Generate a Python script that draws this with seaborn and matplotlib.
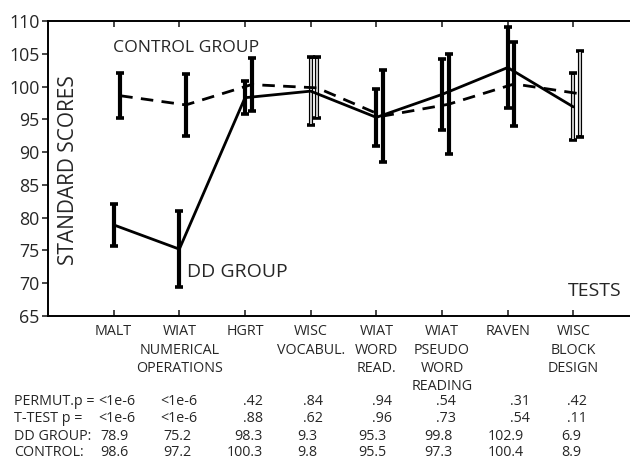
import numpy as np
import pandas as pd
import matplotlib
matplotlib.use("Agg")
import matplotlib.pyplot as plt
import seaborn as sns

# ---- data ----
tests = ["MALT", "WIAT\nNUMERICAL\nOPERATIONS", "HGRT", "WISC\nVOCABUL.",
         "WIAT\nWORD\nREAD.", "WIAT\nPSEUDO\nWORD\nREADING", "RAVEN", "WISC\nBLOCK\nDESIGN"]
dd_scores = [78.9, 75.2, 98.3, 99.3, 95.3, 98.8, 102.9, 96.9]
dd_err = [3.2, 5.8, 2.5, 5.2, 4.35, 5.4, 6.2, 5.1]
ctrl_scores = [98.6, 97.2, 100.3, 99.8, 95.5, 97.3, 100.4, 98.9]
ctrl_err = [3.4, 4.7, 4.0, 4.65, 7.0, 7.65, 6.4, 6.55]
thin_bars = [False, False, False, True, False, False, False, True]

permut_p = ["<1e-6", "<1e-6", ".42", ".84", ".94", ".54", ".31", ".42"]
ttest_p = ["<1e-6", "<1e-6", ".88", ".62", ".96", ".73", ".54", ".11"]
dd_row = ["78.9", "75.2", "98.3", "9.3", "95.3", "99.8", "102.9", "6.9"]
ctrl_row = ["98.6", "97.2", "100.3", "9.8", "95.5", "97.3", "100.4", "8.9"]

sns.set_style("ticks")
plt.rcParams["font.family"] = ["Open Sans", "DejaVu Sans"]

W, H = 630, 459
fig = plt.figure(figsize=(W / 100, H / 100), dpi=100)
ax = fig.add_axes([48 / W, (H - 316) / H, 591 / W, 295 / H])

pos = np.arange(1, len(tests) + 1)
ctrl_pos = pos + 0.1
df_dd = pd.DataFrame({"x": pos, "y": dd_scores})
df_ct = pd.DataFrame({"x": ctrl_pos, "y": ctrl_scores})

# error bars
for xs, ys, es in [(pos, dd_scores, dd_err), (ctrl_pos, ctrl_scores, ctrl_err)]:
    for xi, yi, ei, thin in zip(xs, ys, es, thin_bars):
        ax.errorbar([xi], [yi], yerr=[ei], fmt="none", ecolor="black",
                    elinewidth=3.0, capsize=3.2, capthick=2.6, zorder=2)
        if thin:
            ax.vlines([xi], yi - ei + 0.25, yi + ei - 0.25, colors="white",
                      linewidth=1.1, zorder=3)

sns.lineplot(data=df_dd, x="x", y="y", ax=ax, color="black", linewidth=2.0,
             sort=False, zorder=4)
sns.lineplot(data=df_ct, x="x", y="y", ax=ax, color="black", linewidth=2.0,
             linestyle=(0, (4.5, 3)), sort=False, zorder=4)

ax.set_xlim(0, 9)
ax.set_ylim(65, 110)
ax.set_yticks(np.arange(65, 111, 5))
ax.set_xticks(pos)
ax.set_xticklabels(tests, fontsize=10.3, linespacing=1.3)
ax.tick_params(axis="x", direction="in", top=True, length=4, width=1.2, pad=6)
ax.tick_params(axis="y", direction="out", length=4, width=1.2, labelsize=12.8, pad=2)
for s in ax.spines.values():
    s.set_linewidth(1.4)
    s.set_color("black")
ax.set_xlabel("")
ax.set_ylabel("")

def px(x, y):
    return x / W, 1 - y / H

fig.text(*px(69, 170), "STANDARD SCORES", rotation=90, ha="center", va="center", fontsize=15)
fig.text(*px(113, 48), "CONTROL GROUP", ha="left", va="center", fontsize=12.6)
fig.text(*px(187, 272), "DD GROUP", ha="left", va="center", fontsize=14)
fig.text(*px(568, 290.5), "TESTS", ha="left", va="center", fontsize=14)

# table
fs = 10.3
rows_y = [401.7, 418.3, 436.0, 453.0]
row_labels = ["PERMUT.p =", "T-TEST p =", "DD GROUP:", "CONTROL:"]
for lab, yy in zip(row_labels, rows_y):
    fig.text(*px(14, yy), lab, ha="left", va="center", fontsize=fs)

p_right = [133, 197, 263, 323, 392, 456, 530, 587]
p_left0 = 98.5
for vals, yy in [(permut_p, rows_y[0]), (ttest_p, rows_y[1])]:
    for i, v in enumerate(vals):
        if i == 0:
            fig.text(*px(p_left0, yy), v, ha="left", va="center", fontsize=fs)
        else:
            fig.text(*px(p_right[i], yy), v, ha="right", va="center", fontsize=fs)

s_left = [100.7, 163, None, 297, 358, 424, 488, 561]
for vals, yy in [(dd_row, rows_y[2]), (ctrl_row, rows_y[3])]:
    for i, v in enumerate(vals):
        if i == 2:
            fig.text(*px(263, yy), v, ha="right", va="center", fontsize=fs)
        else:
            fig.text(*px(s_left[i], yy), v, ha="left", va="center", fontsize=fs)

fig.savefig("out.png", dpi=100)
